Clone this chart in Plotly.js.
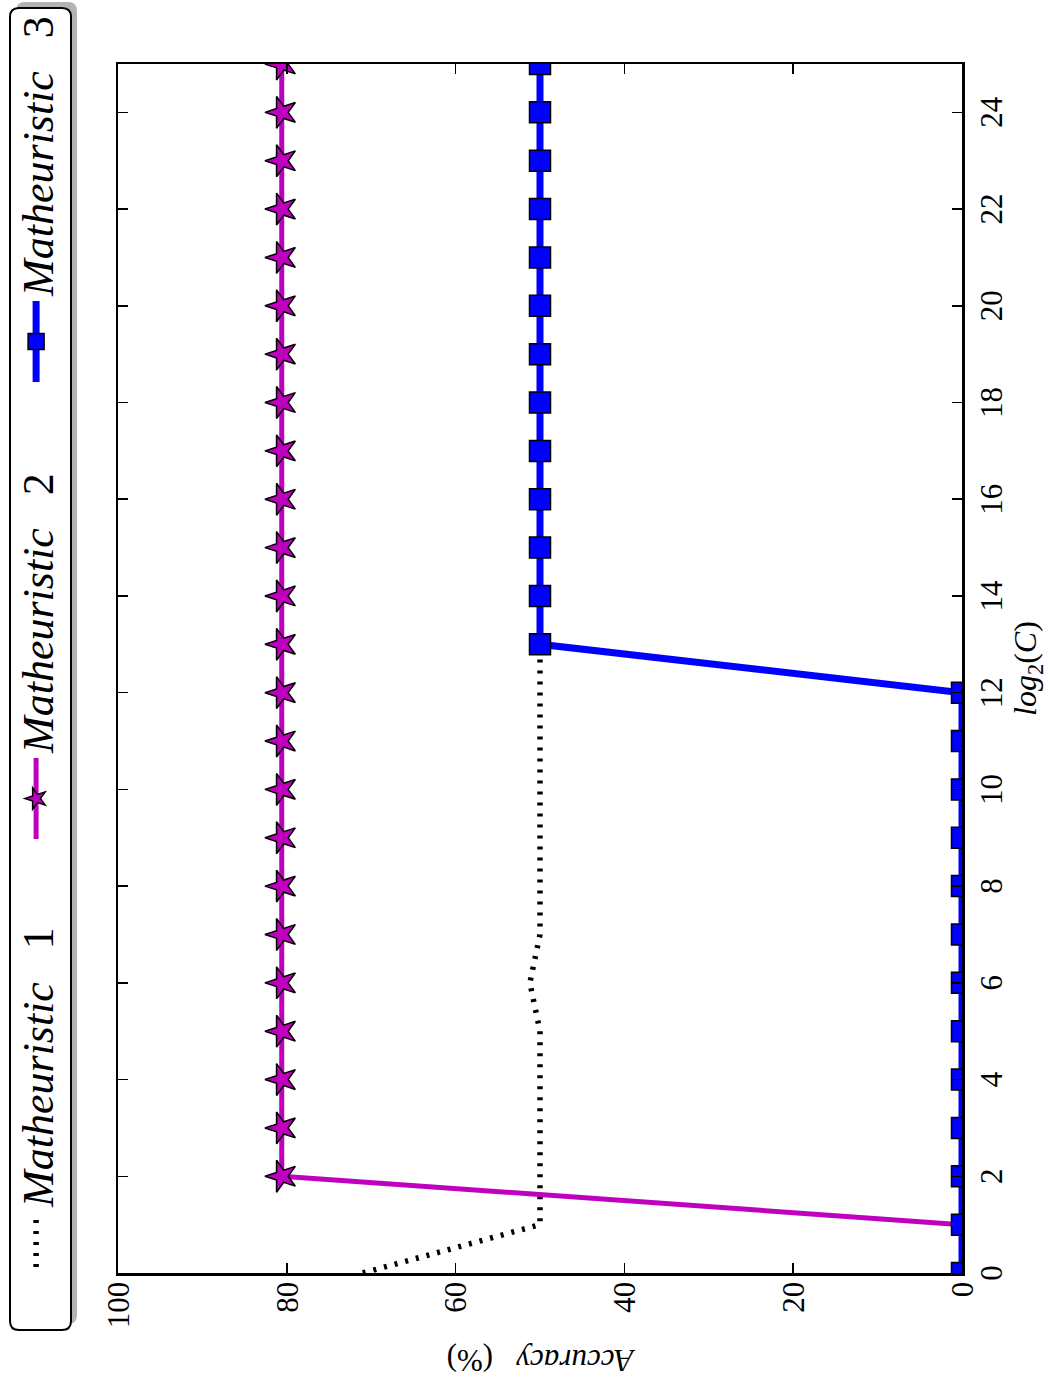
<!DOCTYPE html>
<html>
<head>
<meta charset="utf-8">
<script src="https://cdn.plot.ly/plotly-3.0.1.min.js"></script>
<style>
html, body { margin: 0; padding: 0; background: #ffffff; }
#wrap { position: relative; width: 1048px; height: 1387px; overflow: hidden; background: #fff; }
#chart { position: absolute; left: 0; top: 0; width: 1387px; height: 1048px;
         transform-origin: 0 0; transform: translateY(1387px) rotate(-90deg); }
</style>
</head>
<body>
<div id="wrap"><div id="chart"></div></div>
<script>
// log2(C) values
const log2C = [0,1,2,3,4,5,6,7,8,9,10,11,12,13,14,15,16,17,18,19,20,21,22,23,24,25];
// Accuracy (%) per series
const math1 = [71,50,50,50,50,50,51.2,50,50,50,50,50,50,50,50,50,50,50,50,50,50,50,50,50,50,50];
const math2 = [0,0,80.6,80.6,80.6,80.6,80.6,80.6,80.6,80.6,80.6,80.6,80.6,80.6,80.6,80.6,80.6,80.6,80.6,80.6,80.6,80.6,80.6,80.6,80.6,80.6];
const math3 = [0,0,0,0,0,0,0,0,0,0,0,0,0,50,50,50,50,50,50,50,50,50,50,50,50,50];
const SP = '\u00A0\u00A0\u00A0';
const seriesNames = ['<i>Matheuristic</i>' + SP + '1', '<i>Matheuristic</i>' + SP + '2', '<i>Matheuristic</i>' + SP + '3'];
const xTicks = [0,2,4,6,8,10,12,14,16,18,20,22,24];
const yTicks = [0,20,40,60,80,100];

const FONT = 'Liberation Serif, Times New Roman, serif';

const traces = [
  { x: log2C, y: math1, name: seriesNames[0], mode: 'lines', legend: 'legend',
    line: { color: '#000000', width: 5.5, dash: '3px,8px' } },
  { x: log2C.slice(0, 3), y: math2.slice(0, 3), mode: 'lines', showlegend: false,
    line: { color: '#bf00bf', width: 5 } },
  { x: log2C.slice(2), y: math2.slice(2), name: seriesNames[1], mode: 'lines+markers', legend: 'legend2',
    line: { color: '#bf00bf', width: 5 },
    marker: { symbol: 'star', size: 24, color: '#bf00bf', line: { color: '#000', width: 1.5 } } },
  { x: log2C, y: math3, name: seriesNames[2], mode: 'lines+markers', legend: 'legend3',
    line: { color: '#0000ff', width: 7 },
    marker: { symbol: 'square', size: 21, color: '#0000ff', line: { color: '#000', width: 1.5 } } }
];

// plot area: x paper 0..1 <-> 114..1323 px, y paper 0..1 <-> 962..118 px
function px(u) { return (u - 114) / 1209; }
function py(v) { return (962 - v) / 844; }
function roundRect(u0, v0, u1, v1, r) {
  const x0 = px(u0), x1 = px(u1), y0 = py(v1), y1 = py(v0);
  const rx = r / 1209, ry = r / 844;
  return `M ${x0+rx},${y0} L ${x1-rx},${y0} Q ${x1},${y0} ${x1},${y0+ry} L ${x1},${y1-ry} Q ${x1},${y1} ${x1-rx},${y1} L ${x0+rx},${y1} Q ${x0},${y1} ${x0},${y1-ry} L ${x0},${y0+ry} Q ${x0},${y0} ${x0+rx},${y0} Z`;
}
function legendAt(u, iw) {
  return {
    orientation: 'h', x: px(u), xanchor: 'left', y: py(1), yanchor: 'top',
    bgcolor: 'rgba(0,0,0,0)', borderwidth: 0,
    font: { family: FONT, size: 44, color: '#000' },
    itemwidth: iw
  };
}

const layout = {
  width: 1387, height: 1048,
  margin: { l: 114, r: 64, t: 118, b: 86, pad: 0, autoexpand: false },
  paper_bgcolor: '#ffffff', plot_bgcolor: '#ffffff',
  font: { family: FONT, color: '#000', size: 30 },
  showlegend: true,
  legend: legendAt(115, 55),
  legend2: legendAt(543, 81),
  legend3: legendAt(1000, 81),
  xaxis: {
    range: [0, 25], tickvals: xTicks, ticktext: xTicks.map(String),
    ticks: 'inside', ticklen: 10, tickwidth: 1.5, tickcolor: '#000',
    showline: true, linecolor: '#000', linewidth: 2.5, mirror: 'ticks',
    showgrid: false, zeroline: false,
    tickfont: { family: FONT, size: 31 },
    title: { text: '<i>log</i><sub>2</sub>(<i>C</i>)', font: { family: FONT, size: 32 }, standoff: 10 }
  },
  yaxis: {
    range: [0, 100], tickvals: yTicks, ticktext: yTicks.map(String),
    ticks: 'inside', ticklen: 10, tickwidth: 1.5, tickcolor: '#000',
    showline: true, linecolor: '#000', linewidth: 2.5, mirror: 'ticks',
    showgrid: false, zeroline: false,
    tickfont: { family: FONT, size: 31 },
    title: { text: '<i>Accuracy</i>\u00A0\u00A0\u00A0(%)', font: { family: FONT, size: 31 }, standoff: 12 }
  },
  shapes: [
    { type: 'path', xref: 'paper', yref: 'paper', layer: 'above',
      path: roundRect(57 + 6, 10 + 6, 1379 + 6, 71 + 6, 9),
      fillcolor: '#b3b3b3', line: { width: 0 } },
    { type: 'path', xref: 'paper', yref: 'paper', layer: 'above',
      path: roundRect(57, 10, 1379, 71, 9),
      fillcolor: '#ffffff', line: { color: '#000', width: 2 } }
  ]
};

Plotly.newPlot('chart', traces, layout, { displayModeBar: false, staticPlot: true });
</script>
</body>
</html>
